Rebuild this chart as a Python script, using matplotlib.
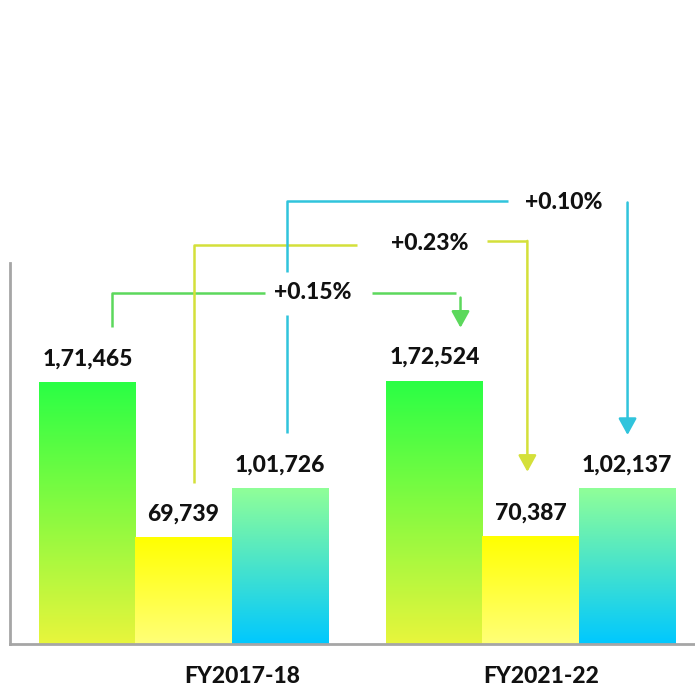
import numpy as np
import matplotlib
matplotlib.use('Agg')
import matplotlib.pyplot as plt
from matplotlib.colors import LinearSegmentedColormap

plt.rcParams['font.family'] = ['Lato', 'DejaVu Sans']

# data
years = ['FY2017-18', 'FY2021-22']
series_a = [171465, 172524]   # green
series_b = [69739, 70387]     # yellow
series_c = [101726, 102137]   # cyan
changes = ['+0.15%', '+0.23%', '+0.10%']

value_labels = [['1,71,465', '1,72,524'], ['69,739', '70,387'], ['1,01,726', '1,02,137']]

# gradient (top colour, bottom colour) for each series
grads = [('#2AFF45', '#E8F53C'), ('#FFFF00', '#FFFF78'), ('#90FF98', '#00C8FF')]
line_cols = ['#5CD85C', '#D4E03A', '#30C4DC']
FW = 'black'
FS = 16.5

fig = plt.figure(figsize=(6.95, 6.87), dpi=100)
ax = fig.add_axes([10/695, 1-644/687, 694/695, 381/687])

w = 0.2767
offs = [-w, 0, w]
x = np.arange(len(years))

#draw bars as gradient images
grad = np.linspace(0, 1, 256).reshape(-1, 1)
for s, vals in enumerate([series_a, series_b, series_c]):
    cmap = LinearSegmentedColormap.from_list('g%d' % s, [grads[s][1], grads[s][0]])
    for i, v in enumerate(vals):
        x0 = x[i] + offs[s] - w/2
        ax.imshow(grad, extent=[x0, x0 + w, 0, v], origin='lower', aspect='auto', cmap=cmap, zorder=2)
        ax.annotate(value_labels[s][i], (x[i] + offs[s], v), xytext=(0, 17), textcoords='offset points',
                    ha='center', va='center', fontsize=FS, fontweight=FW, color='#111111')

ax.set_xlim(-0.5, 1.5)
ax.set_ylim(0, 250000)

kw_line = dict(lw=1.8, clip_on=False, solid_capstyle='butt')

def seg(xs, ys, col):
    ax.plot(xs, ys, color=col, **kw_line)

def arrow(xa, y0, y1, col):
    ax.annotate('', xy=(xa, y1), xytext=(xa, y0),
                arrowprops=dict(arrowstyle='-|>,head_length=1.0,head_width=0.55', color=col, lw=1.8,
                                shrinkA=0, shrinkB=0), annotation_clip=False)

def pct(tx, ty, label):
    ax.text(tx, ty, label, ha='center', va='center', fontsize=FS, fontweight=FW, color='#111111',
            clip_on=False)

# green: FY17 -> FY22
gs = x[0] + offs[0] + 0.072
ge = x[1] + offs[0] + 0.075
seg([gs, gs, 0.236], [series_a[0] + 36800, 230600, 230600], line_cols[0])
seg([0.542, ge - 0.012], [230600, 230600], line_cols[0])
arrow(ge, 227300, series_a[1] + 35000, line_cols[0])
pct(0.372, 230600, changes[0])

# yellow
ys_ = x[0] + offs[1] + 0.029
ye = x[1] + offs[1] - 0.009
seg([ys_, ys_, 0.501], [series_b[0] + 36000, 261500, 261500], line_cols[1])
seg([0.876, ye], [264500, 264500], line_cols[1])
arrow(ye, 264500, series_b[1] + 42600, line_cols[1])
pct(0.711, 262500, changes[1])

# cyan (broken where it crosses the +0.15% label)
cs = x[0] + offs[2] + 0.022
ce = x[1] + offs[2] + 0.003
seg([cs, cs], [series_c[0] + 37000, 216000], line_cols[2])
seg([cs, cs, 0.934], [244400, 291000, 291000], line_cols[2])
arrow(ce, 289700, series_c[1] + 35000, line_cols[2])
pct(1.095, 290000, changes[2])

for sp in ['top', 'right']:
    ax.spines[sp].set_visible(False)
for sp in ['left', 'bottom']:
    ax.spines[sp].set_color('#A6A6A6')
    ax.spines[sp].set_linewidth(2)
ax.set_yticks([])
ax.set_xticks([x[0] + 0.17, x[1] + 0.03])
ax.set_xticklabels(years, fontsize=FS, fontweight=FW, color='#111111')
ax.tick_params(axis='x', length=0, pad=16)

fig.savefig('out.png', dpi=100)
